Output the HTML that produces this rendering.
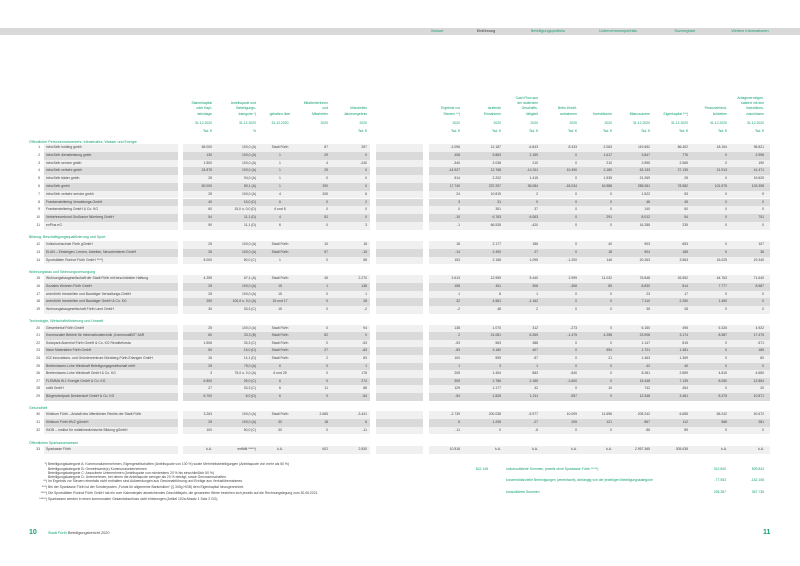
<!DOCTYPE html>
<html><head><meta charset="utf-8"><style>
*{margin:0;padding:0;box-sizing:border-box}
body{width:800px;height:566px;background:#fff;position:relative;overflow:hidden;font-family:"Liberation Sans",sans-serif;color:#444;font-size:3.4px}
.nav{position:absolute;left:0;top:28px;width:800px;height:7px;background:#d9d9d9}
.nav span{position:absolute;top:0;line-height:7px;font-size:3.8px;color:#1a9e74;transform:translateX(-50%);white-space:nowrap}
.g{color:#13a077}
.r{position:absolute;left:0;width:800px;height:7.7px;line-height:7.7px;
background:linear-gradient(to right,transparent 44px,#f0f0f0 44px,#f0f0f0 178px,transparent 178px,transparent 183px,#f0f0f0 183px,#f0f0f0 370px,transparent 370px,transparent 376px,#f0f0f0 376px,#f0f0f0 423px,transparent 423px,transparent 429px,#f0f0f0 429px,#f0f0f0 770px,transparent 770px)}
.r.d{background:linear-gradient(to right,transparent 44px,#dadada 44px,#dadada 178px,transparent 178px,transparent 183px,#dadada 183px,#dadada 370px,transparent 370px,transparent 376px,#dadada 376px,#dadada 423px,transparent 423px,transparent 429px,#dadada 429px,#dadada 770px,transparent 770px)}
.r i,.h div{position:absolute;top:0;font-style:normal;white-space:nowrap;text-align:right}
.r i:nth-child(1){right:760px}
.r i:nth-child(2){left:46px;text-align:left}
.r i:nth-child(3),.h .c3{right:588px}
.r i:nth-child(4),.h .c4{right:544px}
.r i:nth-child(5),.h .c5{left:250px;width:60px;text-align:center}
.r i:nth-child(6),.h .c6{right:472px}
.r i:nth-child(7),.h .c7{right:433px}
.r i:nth-child(8),.h .c8{right:340px}
.r i:nth-child(9),.h .c9{right:299px}
.r i:nth-child(10),.h .c10{right:262px}
.r i:nth-child(11),.h .c11{right:223px}
.r i:nth-child(12),.h .c12{right:188px}
.r i:nth-child(13),.h .c13{right:150px}
.r i:nth-child(14),.h .c14{right:112px}
.r i:nth-child(15),.h .c15{right:73px}
.r i:nth-child(16),.h .c16{right:36px}
.h div{top:auto;bottom:449px;line-height:5.3px;color:#13a077}
.h2 div{bottom:440px}
.h3 div{bottom:432px}
.sec{position:absolute;left:29px;color:#13a077;font-size:3.6px;line-height:6px;white-space:nowrap}
.fn{position:absolute;left:0;width:800px;line-height:4.6px;white-space:nowrap}
.fn b{font-weight:normal;position:absolute;right:753px}
.fn span{position:absolute;left:48px}
.s{position:absolute;color:#13a077;white-space:nowrap;line-height:5px}
</style></head><body>
<div class="nav">
<span style="left:437px">Vorwort</span>
<span style="left:486px;color:#333">Einführung</span>
<span style="left:548px">Beteiligungsportfolio</span>
<span style="left:618px">Unternehmensporträts</span>
<span style="left:685px">Suchregister</span>
<span style="left:750px">Weitere Informationen</span>
</div>

<div class="h">
<div class="c3">Stammkapital<br>oder Kapi-<br>taleinlage</div>
<div class="c4">Anteilsquote und<br>Beteiligungs-<br>kategorie *)</div>
<div class="c5">gehalten über</div>
<div class="c6">Mitarbeiterinnen<br>und<br>Mitarbeiter</div>
<div class="c7">bilanzielles<br>Jahresergebnis</div>
<div class="c8">Ergebnis vor<br>Steuern **)</div>
<div class="c9">laufende<br>Einnahmen</div>
<div class="c10">Cash Flow aus<br>der laufenden<br>Geschäfts-<br>tätigkeit</div>
<div class="c11">Netto-Kredit-<br>aufnahmen</div>
<div class="c12">Investitionen</div>
<div class="c13">Bilanzsumme</div>
<div class="c14">Eigenkapital ***)</div>
<div class="c15">Finanzverbind-<br>lichkeiten</div>
<div class="c16">Anlagevermögen,<br>saldiert mit den<br>Investitions-<br>zuschüssen</div>
</div>
<div class="h h2">
<div class="c3">31.12.2020</div><div class="c4">31.12.2020</div><div class="c5">31.12.2020</div><div class="c6">2020</div><div class="c7">2020</div>
<div class="c8">2020</div><div class="c9">2020</div><div class="c10">2020</div><div class="c11">2020</div><div class="c12">2020</div>
<div class="c13">31.12.2020</div><div class="c14">31.12.2020</div><div class="c15">31.12.2020</div><div class="c16">31.12.2020</div>
</div>
<div class="h h3">
<div class="c3">Tsd. €</div><div class="c4">%</div><div class="c7">Tsd. €</div>
<div class="c8">Tsd. €</div><div class="c9">Tsd. €</div><div class="c10">Tsd. €</div><div class="c11">Tsd. €</div><div class="c12">Tsd. €</div>
<div class="c13">Tsd. €</div><div class="c14">Tsd. €</div><div class="c15">Tsd. €</div><div class="c16">Tsd. €</div>
</div>

<div class="sec" style="top:139px">Öffentlicher Personennahverkehr, Infrastruktur, Wasser und Energie</div>
<div class="r" style="top:144.2px"><i>1</i><i>infra fürth holding gmbh</i><i>65.000</i><i>100,0 (A)</i><i>Stadt Fürth</i><i>87</i><i>257</i><i>-2.096</i><i>12.187</i><i>-6.843</i><i>8.433</i><i>2.063</i><i>119.652</i><i>86.402</i><i>18.154</i><i>98.821</i></div>
<div class="r d" style="top:151.9px"><i>2</i><i>infra fürth dienstleistung gmbh</i><i>130</i><i>100,0 (A)</i><i>1</i><i>29</i><i>0</i><i>408</i><i>5.863</i><i>2.159</i><i>0</i><i>1.617</i><i>3.847</i><i>776</i><i>0</i><i>2.996</i></div>
<div class="r" style="top:159.6px"><i>3</i><i>infra fürth service gmbh</i><i>1.500</i><i>100,0 (A)</i><i>1</i><i>4</i><i>-240</i><i>-340</i><i>2.038</i><i>210</i><i>0</i><i>210</i><i>2.895</i><i>2.565</i><i>0</i><i>190</i></div>
<div class="r d" style="top:167.4px"><i>4</i><i>infra fürth verkehr gmbh</i><i>24.875</i><i>100,0 (A)</i><i>1</i><i>25</i><i>0</i><i>-14.927</i><i>12.768</i><i>-14.311</i><i>10.490</i><i>2.180</i><i>63.133</i><i>27.135</i><i>21.913</i><i>41.471</i></div>
<div class="r" style="top:175.2px"><i>5</i><i>infra fürth bäder gmbh</i><i>25</i><i>94,0 (A)</i><i>1</i><i>0</i><i>0</i><i>514</i><i>2.202</i><i>1.415</i><i>0</i><i>1.535</i><i>21.269</i><i>25</i><i>0</i><i>19.625</i></div>
<div class="r d" style="top:183px"><i>6</i><i>infra fürth gmbh</i><i>50.000</i><i>80,1 (A)</i><i>1</i><i>290</i><i>0</i><i>17.740</i><i>237.257</i><i>36.084</i><i>-18.034</i><i>16.588</i><i>255.061</i><i>78.582</i><i>101.575</i><i>103.398</i></div>
<div class="r" style="top:190.8px"><i>7</i><i>infra fürth verkehr service gmbh</i><i>25</i><i>100,0 (A)</i><i>4</i><i>205</i><i>6</i><i>24</i><i>10.819</i><i>2</i><i>0</i><i>0</i><i>1.522</i><i>53</i><i>0</i><i>9</i></div>
<div class="r d" style="top:198.6px"><i>8</i><i>Frankenstellering Verwaltungs-GmbH</i><i>40</i><i>15,0 (D)</i><i>6</i><i>0</i><i>2</i><i>3</i><i>31</i><i>0</i><i>0</i><i>0</i><i>48</i><i>45</i><i>0</i><i>0</i></div>
<div class="r" style="top:206.4px"><i>9</i><i>Frankenstellering GmbH &amp; Co. KG</i><i>60</i><i>15,0 u. 0,0 (D)</i><i>6 und 8</i><i>0</i><i>0</i><i>0</i><i>351</i><i>37</i><i>0</i><i>0</i><i>140</i><i>60</i><i>0</i><i>0</i></div>
<div class="r d" style="top:214.2px"><i>10</i><i>Verkehrsverbund Großraum Nürnberg GmbH</i><i>54</i><i>11,1 (D)</i><i>4</i><i>52</i><i>0</i><i>-10</i><i>6.763</i><i>6.063</i><i>0</i><i>291</i><i>8.012</i><i>54</i><i>0</i><i>751</i></div>
<div class="r" style="top:222px"><i>11</i><i>enPlus eG</i><i>90</i><i>11,1 (D)</i><i>6</i><i>0</i><i>3</i><i>-1</i><i>66.535</i><i>-420</i><i>0</i><i>0</i><i>16.288</i><i>235</i><i>0</i><i>0</i></div>

<div class="sec" style="top:234px">Bildung, Beschäftigungsqualifizierung und Sport</div>
<div class="r" style="top:241.2px"><i>12</i><i>Volkshochschule Fürth gGmbH</i><i>25</i><i>100,0 (A)</i><i>Stadt Fürth</i><i>10</i><i>18</i><i>18</i><i>2.177</i><i>186</i><i>0</i><i>40</i><i>903</i><i>653</i><i>0</i><i>107</i></div>
<div class="r d" style="top:248.9px"><i>13</i><i>ELAN – Einsteigen, Lernen, Arbeiten, Neuorientieren GmbH</i><i>26</i><i>100,0 (A)</i><i>Stadt Fürth</i><i>57</i><i>-15</i><i>-14</i><i>2.490</i><i>27</i><i>0</i><i>18</i><i>504</i><i>185</i><i>0</i><i>36</i></div>
<div class="r" style="top:256.6px"><i>14</i><i>Sportstätten Ronhof Fürth GmbH ****)</i><i>5.000</i><i>50,0 (C)</i><i>1</i><i>0</i><i>58</i><i>153</i><i>2.168</i><i>1.095</i><i>-1.200</i><i>146</i><i>20.263</i><i>3.563</i><i>16.025</i><i>19.340</i></div>

<div class="sec" style="top:269px">Wohnungsbau und Wohnungsversorgung</div>
<div class="r" style="top:275.3px"><i>15</i><i>Wohnungsbaugesellschaft der Stadt Fürth mit beschränkter Haftung</i><i>4.259</i><i>67,1 (A)</i><i>Stadt Fürth</i><i>45</i><i>2.270</i><i>2.613</i><i>12.959</i><i>5.440</i><i>2.999</i><i>11.032</i><i>76.848</i><i>26.552</i><i>44.763</i><i>71.640</i></div>
<div class="r d" style="top:283px"><i>16</i><i>Soziales Wohnen Fürth GmbH</i><i>25</i><i>100,0 (A)</i><i>15</i><i>1</i><i>138</i><i>158</i><i>811</i><i>308</i><i>-308</i><i>89</i><i>8.830</i><i>814</i><i>7.777</i><i>8.587</i></div>
<div class="r" style="top:290.7px"><i>17</i><i>wohnfürth Immobilien und Bauträger Verwaltungs-GmbH</i><i>25</i><i>100,0 (A)</i><i>15</i><i>0</i><i>1</i><i>1</i><i>8</i><i>1</i><i>0</i><i>0</i><i>23</i><i>17</i><i>0</i><i>0</i></div>
<div class="r d" style="top:298.4px"><i>18</i><i>wohnfürth Immobilien und Bauträger GmbH &amp; Co. KG</i><i>250</i><i>100,0 u. 0,0 (A)</i><i>15 und 17</i><i>0</i><i>28</i><i>32</i><i>4.581</i><i>-1.162</i><i>0</i><i>0</i><i>7.110</i><i>2.250</i><i>1.450</i><i>0</i></div>
<div class="r" style="top:306.1px"><i>19</i><i>Wohnungsbaugesellschaft Fürth Land GmbH</i><i>30</i><i>33,3 (C)</i><i>15</i><i>0</i><i>-2</i><i>-2</i><i>48</i><i>2</i><i>0</i><i>0</i><i>35</i><i>28</i><i>0</i><i>0</i></div>

<div class="sec" style="top:318px">Technologie, Wirtschaftsförderung und Umwelt</div>
<div class="r" style="top:324.6px"><i>20</i><i>Gewerbehof Fürth GmbH</i><i>25</i><i>100,0 (A)</i><i>Stadt Fürth</i><i>0</i><i>94</i><i>138</i><i>1.070</i><i>312</i><i>-273</i><i>0</i><i>6.150</i><i>495</i><i>5.326</i><i>4.922</i></div>
<div class="r d" style="top:332.2px"><i>21</i><i>Kommunaler Betrieb für Informationstechnik „KommunalBIT“ AöR</i><i>60</i><i>33,3 (B)</i><i>Stadt Fürth</i><i>82</i><i>0</i><i>2</i><i>21.081</i><i>6.265</i><i>-1.475</i><i>4.258</i><i>23.908</i><i>3.174</i><i>8.587</i><i>17.475</i></div>
<div class="r" style="top:339.8px"><i>22</i><i>Solarpark Atzenhof Fürth GmbH &amp; Co. KG Renditeforsta</i><i>1.506</i><i>33,3 (C)</i><i>Stadt Fürth</i><i>0</i><i>-53</i><i>-53</i><i>563</i><i>388</i><i>0</i><i>0</i><i>1.147</i><i>815</i><i>0</i><i>671</i></div>
<div class="r d" style="top:347.4px"><i>23</i><i>Neue Materialien Fürth GmbH</i><i>50</i><i>15,0 (D)</i><i>Stadt Fürth</i><i>27</i><i>-83</i><i>-83</i><i>3.180</i><i>407</i><i>0</i><i>594</i><i>1.721</i><i>1.381</i><i>0</i><i>185</i></div>
<div class="r" style="top:355px"><i>24</i><i>IGZ Innovations- und Gründerzentrum Nürnberg-Fürth-Erlangen GmbH</i><i>26</i><i>14,1 (D)</i><i>Stadt Fürth</i><i>2</i><i>83</i><i>100</i><i>599</i><i>87</i><i>0</i><i>21</i><i>1.463</i><i>1.369</i><i>0</i><i>80</i></div>
<div class="r d" style="top:362.6px"><i>25</i><i>Breitenhaven-Lohe Windkraft Beteiligungsgesellschaft mbH</i><i>25</i><i>75,0 (A)</i><i>6</i><i>0</i><i>1</i><i>1</i><i>3</i><i>1</i><i>0</i><i>0</i><i>42</i><i>40</i><i>0</i><i>0</i></div>
<div class="r" style="top:370.2px"><i>26</i><i>Breitenhaven-Lohe Windkraft GmbH &amp; Co. KG</i><i>3</i><i>75,0 u. 0,0 (A)</i><i>6 und 25</i><i>0</i><i>178</i><i>205</i><i>1.454</i><i>883</i><i>-540</i><i>0</i><i>8.281</i><i>2.859</i><i>4.815</i><i>4.650</i></div>
<div class="r d" style="top:377.8px"><i>27</i><i>FLEMMA W.1 Energie GmbH &amp; Co. KG</i><i>6.800</i><i>25,0 (C)</i><i>6</i><i>0</i><i>274</i><i>305</i><i>2.786</i><i>2.185</i><i>-1.600</i><i>0</i><i>15.448</i><i>7.139</i><i>8.050</i><i>12.854</i></div>
<div class="r" style="top:385.4px"><i>28</i><i>solid GmbH</i><i>27</i><i>33,3 (C)</i><i>6</i><i>11</i><i>88</i><i>129</i><i>1.177</i><i>42</i><i>0</i><i>10</i><i>742</i><i>454</i><i>0</i><i>20</i></div>
<div class="r d" style="top:393px"><i>29</i><i>Bürgerwindpark Denkendorf GmbH &amp; Co. KG</i><i>6.700</i><i>8,0 (D)</i><i>6</i><i>0</i><i>-54</i><i>-54</i><i>1.825</i><i>1.211</i><i>-957</i><i>0</i><i>12.348</i><i>3.461</i><i>8.375</i><i>10.871</i></div>

<div class="sec" style="top:405px">Gesundheit</div>
<div class="r" style="top:411.3px"><i>30</i><i>Klinikum Fürth – Anstalt des öffentlichen Rechts der Stadt Fürth</i><i>3.263</i><i>100,0 (A)</i><i>Stadt Fürth</i><i>2.665</i><i>-3.441</i><i>-2.739</i><i>200.038</i><i>-5.977</i><i>10.009</i><i>11.696</i><i>205.242</i><i>6.655</i><i>65.242</i><i>40.672</i></div>
<div class="r d" style="top:419px"><i>31</i><i>Klinikum Fürth MVZ gGmbH</i><i>25</i><i>100,0 (A)</i><i>30</i><i>18</i><i>6</i><i>6</i><i>1.208</i><i>-27</i><i>205</i><i>121</i><i>867</i><i>112</i><i>568</i><i>281</i></div>
<div class="r" style="top:426.7px"><i>32</i><i>INOB – Institut für notfallmedizinische Bildung gGmbH</i><i>100</i><i>50,0 (C)</i><i>30</i><i>0</i><i>-11</i><i>-11</i><i>0</i><i>-6</i><i>0</i><i>0</i><i>86</i><i>89</i><i>0</i><i>0</i></div>

<div class="sec" style="top:440px">Öffentliches Sparkassenwesen</div>
<div class="r" style="top:446.3px"><i>33</i><i>Sparkasse Fürth</i><i>k.A.</i><i>entfällt *****)</i><i>k.A.</i><i>602</i><i>2.830</i><i>10.818</i><i>k.A.</i><i>k.A.</i><i>k.A.</i><i>k.A.</i><i>2.957.365</i><i>305.638</i><i>k.A.</i><i>k.A.</i></div>

<div class="fn" style="top:462px"><b>*)</b><span>Beteiligungskategorie A: Kommunalunternehmen, Eigengesellschaften (Anteilsquote von 100 %) sowie Mehrheitsbeteiligungen (Anteilsquote von mehr als 50 %)</span></div>
<div class="fn" style="top:466.5px"><span>Beteiligungskategorie B: Gemeinsame(s) Kommunalunternehmen</span></div>
<div class="fn" style="top:470.5px"><span>Beteiligungskategorie C: Assoziierte Unternehmen (Anteilsquote von mindestens 20 % bis einschließlich 50 %)</span></div>
<div class="fn" style="top:474.5px"><span>Beteiligungskategorie D: Unternehmen, bei denen die Anteilsquote weniger als 20 % beträgt, sowie Genossenschaften</span></div>
<div class="fn" style="top:479px"><b>**)</b><span>Im Ergebnis vor Steuern ebenfalls nicht enthalten sind Aufwendungen aus Gewinnabführung und Erträge aus Verlustübernahmen.</span></div>
<div class="fn" style="top:485px"><b>***)</b><span>Bei der Sparkasse Fürth ist der Sonderposten „Fonds für allgemeine Bankrisiken“ (§ 340g HGB) dem Eigenkapital hinzugerechnet.</span></div>
<div class="fn" style="top:491px"><b>****)</b><span>Die Sportstätten Ronhof Fürth GmbH hat ein vom Kalenderjahr abweichendes Geschäftsjahr, die genannten Werte beziehen sich jeweils auf die Rechnungslegung zum 30.06.2021.</span></div>
<div class="fn" style="top:497px"><b>*****)</b><span>Sparkassen werden in einen kommunalen Gesamtabschluss nicht einbezogen (Artikel 102a Absatz 1 Satz 2 GO).</span></div>

<div class="s" style="top:466.5px;right:312px">622.148</div>
<div class="s" style="top:466.5px;left:506px">unkonsolidierte Summen, jeweils ohne Sparkasse Fürth *****)</div>
<div class="s" style="top:466.5px;right:74px">312.840</div>
<div class="s" style="top:466.5px;right:36px">509.843</div>
<div class="s" style="top:478px;left:506px">konzernbilanzielle Bereinigungen (vereinfacht), abhängig von der jeweiligen Beteiligungskategorie</div>
<div class="s" style="top:478px;right:74px">-77.553</div>
<div class="s" style="top:478px;right:36px">-142.108</div>
<div class="s" style="top:489.5px;left:506px">konsolidierte Summen</div>
<div class="s" style="top:489.5px;right:74px">235.287</div>
<div class="s" style="top:489.5px;right:36px">367.735</div>

<div style="position:absolute;left:29px;top:529px;font-size:7px;color:#13a077;font-weight:bold;line-height:8px">10</div>
<div style="position:absolute;left:48px;top:531px;font-size:3.8px;line-height:5px;white-space:nowrap"><span class="g">Stadt Fürth</span> Beteiligungsbericht 2020</div>
<div style="position:absolute;left:763px;top:529px;font-size:7px;color:#13a077;font-weight:bold;line-height:8px">11</div>
</body></html>
